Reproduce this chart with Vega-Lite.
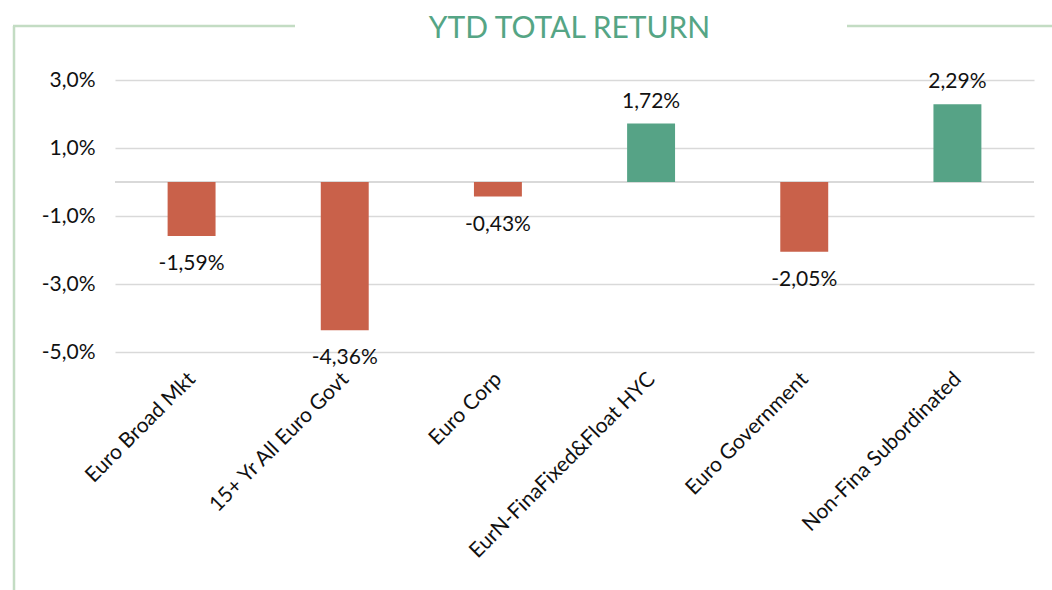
{
  "$schema": "https://vega.github.io/schema/vega-lite/v6.json",
  "width": 919,
  "height": 272,
  "autosize": {"type": "none"},
  "padding": {"left": 115, "top": 80, "right": 18, "bottom": 238},
  "background": "white",
  "config": {
    "locale": {"number": {"decimal": ",", "thousands": ".", "grouping": [3], "currency": ["", " €"], "minus": "-"}},
    "view": {"stroke": null},
    "font": "Lato"
  },
  "title": {
    "text": "YTD TOTAL RETURN",
    "color": "#55A585",
    "font": "Lato",
    "fontSize": 30,
    "fontWeight": "normal",
    "anchor": "middle",
    "baseline": "alphabetic",
    "offset": -43,
    "dx": -5
  },
  "data": {
    "values": [
      {"name": "Euro Broad Mkt", "ret": -0.0159},
      {"name": "15+ Yr All Euro Govt", "ret": -0.0436},
      {"name": "Euro Corp", "ret": -0.0043},
      {"name": "EurN-FinaFixed&Float HYC", "ret": 0.0172},
      {"name": "Euro Government", "ret": -0.0205},
      {"name": "Non-Fina Subordinated", "ret": 0.0229}
    ]
  },
  "encoding": {
    "x": {
      "field": "name",
      "type": "nominal",
      "sort": null,
      "scale": {"paddingInner": 0.687, "paddingOuter": 0.3435},
      "axis": {
        "title": null,
        "labelAngle": -45,
        "labelFont": "Lato",
        "labelFontSize": 21,
        "labelColor": "#111111",
        "labelPadding": 16,
        "labelOffset": -7,
        "domain": false,
        "ticks": false,
        "grid": false,
        "labelLimit": 400
      }
    },
    "y": {
      "field": "ret",
      "type": "quantitative",
      "scale": {"domain": [-0.05, 0.03], "nice": false, "zero": false},
      "axis": {
        "title": null,
        "values": [-0.05, -0.03, -0.01, 0.01, 0.03],
        "format": ".1%",
        "labelFont": "Lato",
        "labelFontSize": 21,
        "labelColor": "#111111",
        "labelPadding": 20,
        "domain": false,
        "ticks": false,
        "grid": true,
        "gridColor": "#d9d9d9",
        "gridWidth": 1.5
      }
    }
  },
  "layer": [
    {
      "mark": {"type": "rule", "color": "#d9d9d9", "strokeWidth": 1.5},
      "encoding": {"y": {"datum": 0}, "x": {"value": 0}, "x2": {"value": 919}}
    },
    {
      "mark": {"type": "bar"},
      "encoding": {
        "color": {"condition": {"test": "datum.ret < 0", "value": "#C9614A"}, "value": "#56A386"}
      }
    },
    {
      "transform": [{"filter": "datum.ret < 0"}],
      "mark": {"type": "text", "baseline": "top", "dy": 17, "font": "Lato", "fontSize": 21, "color": "#111111"},
      "encoding": {"text": {"field": "ret", "type": "quantitative", "format": ".2%"}}
    },
    {
      "transform": [{"filter": "datum.ret >= 0"}],
      "mark": {"type": "text", "baseline": "alphabetic", "dy": -16, "font": "Lato", "fontSize": 21, "color": "#111111"},
      "encoding": {"text": {"field": "ret", "type": "quantitative", "format": ".2%"}}
    },
    {
      "data": {"values": [{}]},
      "mark": {"type": "rule", "color": "#C3DCC3", "strokeWidth": 2.5},
      "encoding": {"x": {"value": -102}, "x2": {"value": 180}, "y": {"value": -54}}
    },
    {
      "data": {"values": [{}]},
      "mark": {"type": "rule", "color": "#C3DCC3", "strokeWidth": 2.5},
      "encoding": {"x": {"value": -101}, "y": {"value": -54}, "y2": {"value": 515}}
    },
    {
      "data": {"values": [{}]},
      "mark": {"type": "rule", "color": "#C3DCC3", "strokeWidth": 2.5},
      "encoding": {"x": {"value": 732}, "x2": {"value": 940}, "y": {"value": -54}}
    }
  ]
}
